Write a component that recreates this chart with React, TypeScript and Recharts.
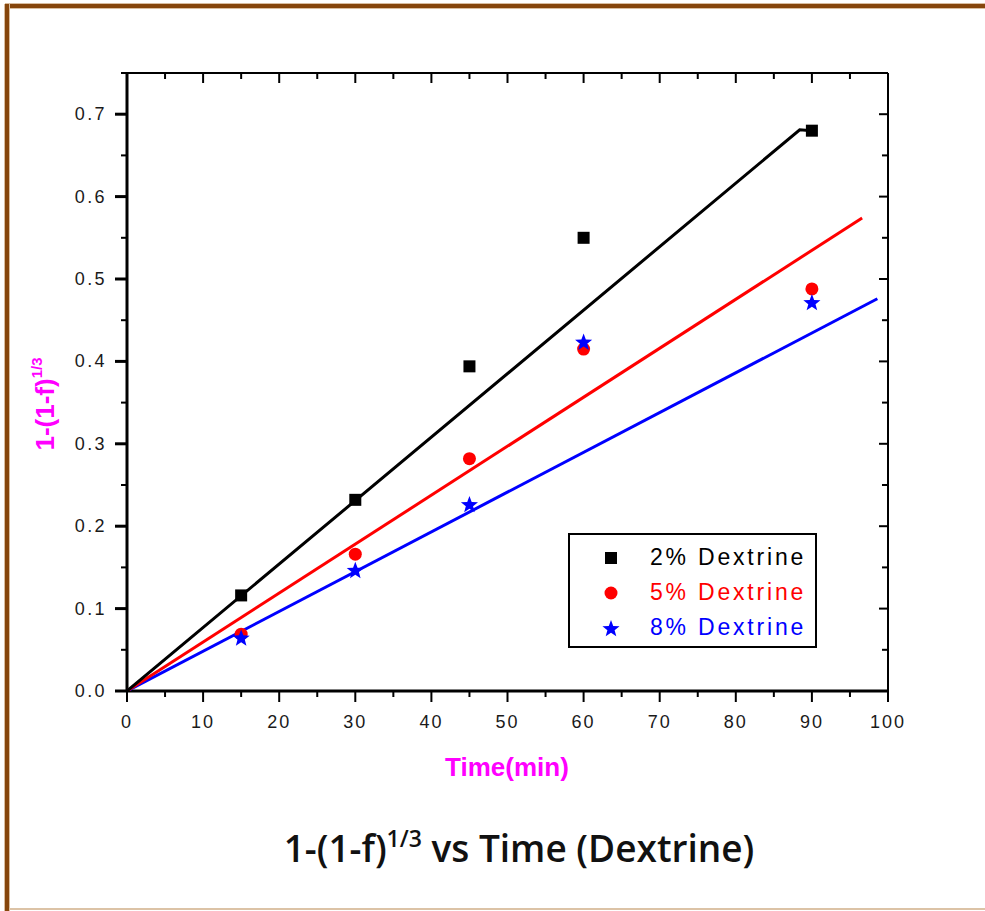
import React from 'react';
import { ScatterChart, Scatter, XAxis, YAxis, Customized } from 'recharts';

// ---- data ----
const timeValues = [15, 30, 45, 60, 90];
const dextrine2 = [0.116, 0.232, 0.394, 0.55, 0.68];
const dextrine5 = [0.069, 0.166, 0.282, 0.415, 0.488];
const dextrine8 = [0.065, 0.147, 0.227, 0.424, 0.472];

const fit2X = [0, 88.4, 90];
const fit2Y = [0, 0.681, 0.68];
const fit5X = [0, 96.6];
const fit5Y = [0, 0.574];
const fit8X = [0, 98.6];
const fit8Y = [0, 0.476];

const xTicks = [0, 5, 10, 15, 20, 25, 30, 35, 40, 45, 50, 55, 60, 65, 70, 75, 80, 85, 90, 95, 100];
const yTicks = [0, 0.05, 0.1, 0.15, 0.2, 0.25, 0.3, 0.35, 0.4, 0.45, 0.5, 0.55, 0.6, 0.65, 0.7, 0.75];

const seriesNames = ['2% Dextrine', '5% Dextrine', '8% Dextrine'];
const seriesColors = ['#000000', '#ff0000', '#0000ff'];

const toPts = (xs: number[], ys: number[]) => xs.map((x, i) => ({ x, y: ys[i] }));

const pts2 = toPts(timeValues, dextrine2);
const pts5 = toPts(timeValues, dextrine5);
const pts8 = toPts(timeValues, dextrine8);
const line2 = toPts(fit2X, fit2Y);
const line5 = toPts(fit5X, fit5Y);
const line8 = toPts(fit8X, fit8Y);

const TICK_FONT = '"Liberation Sans", Arial, sans-serif';

const isMajorX = (v: number) => Math.abs(v % 10) < 1e-9;
const isMajorY = (v: number) => Math.abs(Math.round(v * 10) - v * 10) < 1e-6;

const XTickBottom = (props: any) => {
  const { x, y, payload } = props;
  const major = isMajorX(payload.value);
  return (
    <g>
      <line x1={x} x2={x} y1={y} y2={y + (major ? 11 : 6)} stroke="#000" strokeWidth={2} />
      {major && (
        <text x={x} y={y + 37} textAnchor="middle" fontFamily={TICK_FONT} fontSize={18} letterSpacing={2} fill="#1a1a1a">
          {payload.value}
        </text>
      )}
    </g>
  );
};

const XTickTop = (props: any) => {
  const { x, y, payload } = props;
  const major = isMajorX(payload.value);
  return <line x1={x} x2={x} y1={y} y2={y + (major ? 10 : 6)} stroke="#000" strokeWidth={2} />;
};

const YTickLeft = (props: any) => {
  const { x, y, payload } = props;
  const major = isMajorY(payload.value);
  return (
    <g>
      <line x1={x} x2={x - (major ? 12 : 6)} y1={y} y2={y} stroke="#000" strokeWidth={major ? 3 : 2} />
      {major && (
        <text x={x - 20} y={y + 6} textAnchor="end" fontFamily={TICK_FONT} fontSize={18} letterSpacing={2.4} fill="#1a1a1a">
          {payload.value.toFixed(1)}
        </text>
      )}
    </g>
  );
};

const YTickRight = (props: any) => {
  const { x, y, payload } = props;
  const major = isMajorY(payload.value);
  return <line x1={x} x2={x - (major ? 9 : 6)} y1={y} y2={y} stroke="#000" strokeWidth={2} />;
};

const SquareShape = (props: any) => {
  const { cx, cy } = props;
  return <rect x={cx - 6} y={cy - 6} width={12} height={12} fill="#000" />;
};
const CircleShape = (props: any) => {
  const { cx, cy } = props;
  return <circle cx={cx} cy={cy} r={6.5} fill="#ff0000" />;
};
const starPoints = (cx: number, cy: number, ro: number, ri: number) => {
  const p: string[] = [];
  for (let i = 0; i < 10; i++) {
    const r = i % 2 === 0 ? ro : ri;
    const a = -Math.PI / 2 + (i * Math.PI) / 5;
    p.push(`${cx + r * Math.cos(a)},${cy + r * Math.sin(a)}`);
  }
  return p.join(' ');
};
const StarShape = (props: any) => {
  const { cx, cy } = props;
  return <polygon points={starPoints(cx, cy + 1, 9, 3.8)} fill="#0000ff" />;
};
const NoShape = () => <g />;

const LegendBox = () => (
  <div
    style={{
      position: 'absolute',
      left: 568,
      top: 533,
      width: 245,
      height: 111,
      border: '2px solid #000',
      background: '#fff',
      fontFamily: TICK_FONT,
    }}
  >
    {seriesNames.map((name, i) => {
      const top = [23, 58, 93][i];
      return (
        <div key={name} style={{ position: 'absolute', left: 0, top: top - 14, height: 28, width: 245 }}>
          <svg width={60} height={28} style={{ position: 'absolute', left: 20, top: 0 }}>
            {i === 0 && <rect x={15} y={8} width={12} height={12} fill="#000" />}
            {i === 1 && <circle cx={21} cy={14} r={6.5} fill="#ff0000" />}
            {i === 2 && <polygon points={starPoints(21, 15, 9, 3.8)} fill="#0000ff" />}
          </svg>
          <span
            style={{
              position: 'absolute',
              left: 80,
              top: 0,
              fontSize: 23,
              letterSpacing: 2.8,
              color: seriesColors[i],
              lineHeight: '26px',
              whiteSpace: 'nowrap',
            }}
          >
            {name}
          </span>
        </div>
      );
    })}
  </div>
);

const Texts = () => (
  <g>
    <text
      transform="rotate(-90 54 404)"
      x={54}
      y={404}
      textAnchor="middle"
      fill="#ff00ff"
      fontWeight="bold"
      fontSize={26}
      fontFamily={TICK_FONT}
    >
      1-(1-f)
      <tspan dy={-12} fontSize={15}>1/3</tspan>
    </text>
    <text x={507} y={776} textAnchor="middle" fill="#ff00ff" fontWeight="bold" fontSize={26} fontFamily={TICK_FONT}>
      Time(min)
    </text>
    <text x={519} y={862} textAnchor="middle" fill="#111" fontSize={37} fontWeight={600} fontFamily='"Open Sans", "Noto Sans", sans-serif'>
      1-(1-f)
      <tspan dy={-15} fontSize={23}>1/3</tspan>
      <tspan dy={15}> vs Time (Dextrine)</tspan>
    </text>
  </g>
);

export default function App() {
  return (
    <div style={{ position: 'absolute', left: 0, top: 0, width: 985, height: 911, background: '#fff' }}>
      <div style={{ position: 'absolute', left: 5, top: 3, width: 980, height: 6, background: '#d9bd9f' }} />
      <div style={{ position: 'absolute', left: 5, top: 4, width: 980, height: 4, background: '#86460c' }} />
      <div style={{ position: 'absolute', left: 4, top: 4, width: 6, height: 907, background: '#d9bd9f' }} />
      <div style={{ position: 'absolute', left: 5, top: 4, width: 4, height: 907, background: '#86460c' }} />
      <div style={{ position: 'absolute', left: 9, top: 908, width: 976, height: 2, background: '#dcc3a6' }} />
      <div style={{ position: 'absolute', left: 0, top: 0 }}>
        <ScatterChart width={985} height={911} margin={{ top: 72, right: 96, bottom: 219, left: 126 }}>
          <XAxis
            xAxisId="bottom"
            dataKey="x"
            type="number"
            domain={[0, 100]}
            ticks={xTicks}
            interval={0}
            height={1}
            tickSize={0}
            tickMargin={0}
            tick={<XTickBottom />}
            axisLine={{ stroke: '#000', strokeWidth: 3 }}
            allowDataOverflow
          />
          <XAxis
            xAxisId="top"
            orientation="top"
            dataKey="x"
            type="number"
            domain={[0, 100]}
            ticks={xTicks}
            interval={0}
            height={1}
            tickSize={0}
            tickMargin={0}
            tick={<XTickTop />}
            axisLine={{ stroke: '#000', strokeWidth: 2 }}
            allowDataOverflow
          />
          <YAxis
            yAxisId="left"
            dataKey="y"
            type="number"
            domain={[0, 0.75]}
            ticks={yTicks}
            interval={0}
            width={1}
            tickSize={0}
            tickMargin={0}
            tick={<YTickLeft />}
            axisLine={{ stroke: '#000', strokeWidth: 3 }}
            allowDataOverflow
          />
          <YAxis
            yAxisId="right"
            orientation="right"
            dataKey="y"
            type="number"
            domain={[0, 0.75]}
            ticks={yTicks}
            interval={0}
            width={1}
            tickSize={0}
            tickMargin={0}
            tick={<YTickRight />}
            axisLine={{ stroke: '#000', strokeWidth: 2 }}
            allowDataOverflow
          />
          <Scatter xAxisId="bottom" yAxisId="left" data={line8} line={{ stroke: '#0000ff', strokeWidth: 3 }} shape={<NoShape />} isAnimationActive={false} />
          <Scatter xAxisId="bottom" yAxisId="left" data={line5} line={{ stroke: '#ff0000', strokeWidth: 3 }} shape={<NoShape />} isAnimationActive={false} />
          <Scatter xAxisId="bottom" yAxisId="left" data={line2} line={{ stroke: '#000000', strokeWidth: 3 }} shape={<NoShape />} isAnimationActive={false} />
          <Scatter xAxisId="bottom" yAxisId="left" name={seriesNames[0]} data={pts2} shape={<SquareShape />} isAnimationActive={false} />
          <Scatter xAxisId="bottom" yAxisId="left" name={seriesNames[1]} data={pts5} shape={<CircleShape />} isAnimationActive={false} />
          <Scatter xAxisId="bottom" yAxisId="left" name={seriesNames[2]} data={pts8} shape={<StarShape />} isAnimationActive={false} />
          <Customized component={<Texts />} />
        </ScatterChart>
      </div>
      <LegendBox />
    </div>
  );
}
